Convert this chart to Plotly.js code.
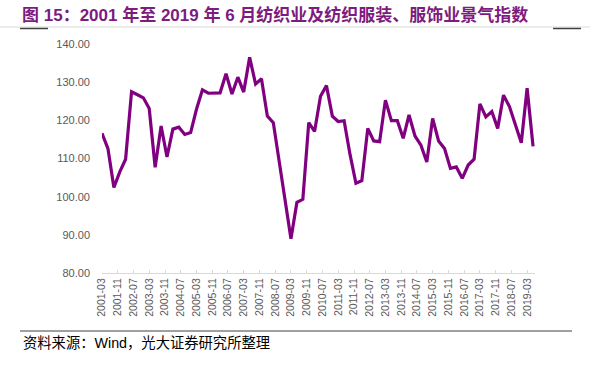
<!DOCTYPE html>
<html>
<head>
<meta charset="utf-8">
<script src="https://cdn.plot.ly/plotly-3.0.1.min.js"></script>
<style>html,body{margin:0;padding:0;background:#fff;}#chart{width:590px;height:365px;}</style>
</head>
<body>
<div id="chart"></div>
<script>
// Quarterly observations, 2001-03 to 2019-06
const startYear = 2001, startMonth = 3, nPoints = 74;
const indexValues = [
  116.6, 112.6, 102.4, 106.5, 109.8, 127.5, 126.7, 125.9, 123.1, 107.7,
  118.5, 110.4, 117.7, 118.2, 116.3, 116.8, 122.9, 128.0, 127.1, 127.1,
  127.2, 132.2, 126.9, 131.3, 127.4, 136.5, 129.5, 130.9, 121.1, 119.4,
  109.3, 99.2, 89.0, 98.5, 99.3, 119.4, 117.1, 126.3, 129.1, 121.1,
  119.7, 119.9, 111.0, 103.5, 104.2, 117.9, 114.6, 114.4, 125.3, 119.9,
  119.9, 115.3, 121.4, 115.9, 113.5, 109.1, 120.5, 114.6, 112.6, 107.4,
  107.8, 104.8, 108.3, 109.8, 124.3, 120.9, 122.3, 117.9, 126.6, 123.6,
  119.0, 114.1, 128.4, 113.2
];
const dates = [];
for (let i = 0; i < nPoints; i++) {
  const m0 = (startMonth - 1) + 3 * i;
  const y = startYear + Math.floor(m0 / 12);
  const m = (m0 % 12) + 1;
  dates.push(y + '-' + String(m).padStart(2, '0') + '-01');
}
const titleText = '图 15：2001 年至 2019 年 6 月纺织业及纺织服装、服饰业景气指数';
const sourceText = '资料来源：Wind，光大证券研究所整理';

const W = 590, H = 365, L = 102, R = 55, T = 44, B = 92;
const pw = W - L - R, ph = H - T - B;
const px = v => (v - L) / pw;
const py = v => (H - B - v) / ph;

const trace = {
  x: dates, y: indexValues, type: 'scatter', mode: 'lines',
  line: {color: '#800080', width: 3.2}, hoverinfo: 'skip'
};
const layout = {
  width: W, height: H,
  margin: {l: L, r: R, t: T, b: B},
  paper_bgcolor: '#fff', plot_bgcolor: '#fff',
  showlegend: false,
  font: {family: 'Liberation Sans, Arial, "Noto Sans CJK SC", sans-serif', color: '#595959'},
  xaxis: {
    type: 'date', range: ['2001-03-01', '2019-07-01'],
    tick0: '2001-03-01', dtick: 'M8', tickformat: '%Y-%m', tickangle: -90,
    ticks: 'inside', ticklen: 3, tickcolor: '#d9d9d9', tickwidth: 1,
    showline: true, linecolor: '#d9d9d9', linewidth: 1,
    showgrid: false, zeroline: false,
    tickfont: {size: 10.5, color: '#595959'}
  },
  yaxis: {
    range: [80, 140], dtick: 10, tick0: 80, tickformat: '.2f',
    showline: false, showgrid: false, zeroline: false, ticks: '',
    ticklabelstandoff: 11,
    tickfont: {size: 11, color: '#595959'}
  },
  annotations: [
    {text: '<b>' + titleText + '</b>', xref: 'paper', yref: 'paper',
     x: px(20), y: py(15), xanchor: 'left', yanchor: 'middle', showarrow: false,
     font: {size: 17, color: '#7d1b7e', family: 'Liberation Sans, Arial, "Noto Sans CJK SC", sans-serif'}},
    {text: sourceText, xref: 'paper', yref: 'paper',
     x: px(21), y: py(343), xanchor: 'left', yanchor: 'middle', showarrow: false,
     font: {size: 14.3, color: '#000', family: 'Liberation Sans, Arial, "Noto Sans CJK SC", sans-serif'}}
  ],
  shapes: [
    {type: 'line', xref: 'paper', yref: 'paper', x0: px(0), x1: px(590), y0: py(27), y1: py(27),
     line: {color: '#d9d9d9', width: 1}},
    {type: 'line', xref: 'paper', yref: 'paper', x0: px(20), x1: px(48), y0: py(28.5), y1: py(28.5),
     line: {color: '#404040', width: 1.5}},
    {type: 'line', xref: 'paper', yref: 'paper', x0: px(553), x1: px(581), y0: py(28.5), y1: py(28.5),
     line: {color: '#404040', width: 1.5}},
    {type: 'line', xref: 'paper', yref: 'paper', x0: px(20), x1: px(572), y0: py(331), y1: py(331),
     line: {color: '#404040', width: 1}}
  ]
};
Plotly.newPlot('chart', [trace], layout, {displayModeBar: false, staticPlot: true});
</script>
</body>
</html>
